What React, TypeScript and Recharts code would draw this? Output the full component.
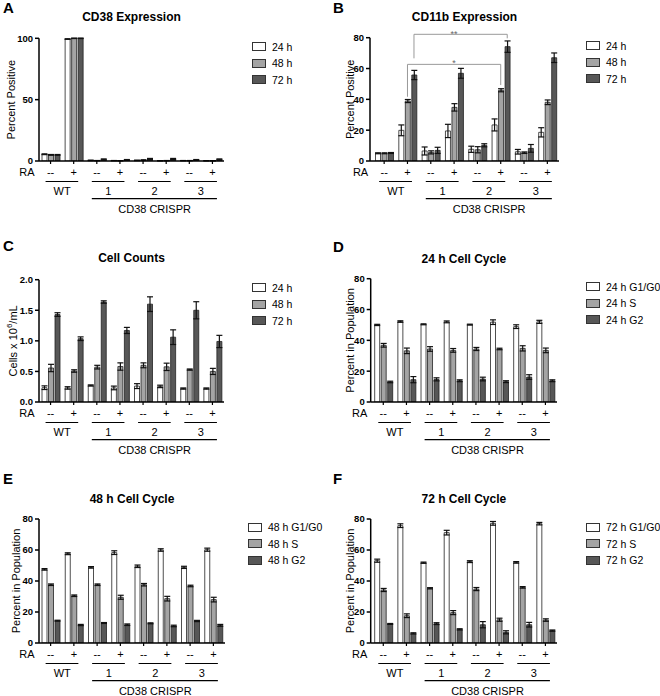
import React from 'react';
import { BarChart, Bar, XAxis, YAxis, ErrorBar, Legend, ReferenceLine } from 'recharts';

// ---------- shared categories ----------
const categories = ['WT-', 'WT+', '1-', '1+', '2-', '2+', '3-', '3+'];
const raLabels = ['--', '+', '--', '+', '--', '+', '--', '+'];
const groupLabels = ['WT', '1', '2', '3'];
const crisprLabel = 'CD38 CRISPR';
const raTitle = 'RA';

// ---------- A: CD38 expression ----------
const cd38Series = ['24 h', '48 h', '72 h'];
const cd38_24 = [5.5, 99.4, 0.5, 0.3, 0.5, 0.2, 0.3, 0.2];
const cd38_48 = [5.0, 100, 0.3, 0.2, 0.7, 0.3, 0.3, 0.2];
const cd38_72 = [5.0, 100, 1.3, 0.9, 1.6, 1.6, 0.9, 1.3];
const cd38_24e = [0.3, 0.2, 0.2, 0.1, 0.2, 0.1, 0.1, 0.1];
const cd38_48e = [0.3, 0.2, 0.1, 0.1, 0.3, 0.1, 0.1, 0.1];
const cd38_72e = [0.3, 0.2, 0.4, 0.3, 0.5, 0.5, 0.3, 0.4];
const cd38Ticks = [0, 50, 100];

// ---------- B: CD11b expression ----------
const cd11bSeries = ['24 h', '48 h', '72 h'];
const cd11b_24 = [5.0, 19.9, 6.5, 19.5, 7.6, 23.4, 6.0, 18.6];
const cd11b_48 = [5.0, 38.9, 5.6, 34.8, 7.3, 45.9, 5.4, 38.1];
const cd11b_72 = [5.2, 55.8, 6.9, 56.9, 10.2, 74.2, 8.2, 67.0];
const cd11b_24e = [0.3, 3.5, 2.6, 4.3, 2.0, 3.9, 1.5, 3.0];
const cd11b_48e = [0.3, 1.0, 1.0, 2.4, 2.0, 1.0, 0.5, 1.5];
const cd11b_72e = [0.3, 3.0, 2.0, 3.2, 1.0, 3.7, 2.5, 3.1];
const cd11bTicks = [0, 20, 40, 60, 80];
// significance brackets: from/to category, series index, y of bar, leg ends
const sigFrom = ['WT+', 'WT+'];
const sigTo = ['2+', '2+'];
const sigSeries = [2, 1];
const sigY = [82.2, 62.7];
const sigLeftEnd = [66.6, 41.7];
const sigRightEnd = [79.6, 49.3];
const sigText = ['**', '*'];

// ---------- C: cell counts ----------
const countSeries = ['24 h', '48 h', '72 h'];
const count_24 = [0.234, 0.23, 0.27, 0.23, 0.26, 0.255, 0.22, 0.22];
const count_48 = [0.556, 0.507, 0.57, 0.58, 0.6, 0.575, 0.53, 0.5];
const count_72 = [1.43, 1.035, 1.635, 1.17, 1.6, 1.06, 1.5, 0.99];
const count_24e = [0.03, 0.02, 0.01, 0.03, 0.04, 0.02, 0.01, 0.01];
const count_48e = [0.06, 0.02, 0.03, 0.06, 0.04, 0.06, 0.01, 0.05];
const count_72e = [0.03, 0.03, 0.02, 0.05, 0.12, 0.12, 0.14, 0.1];
const countTicks = [0, 0.5, 1.0, 1.5, 2.0];

// ---------- D: 24 h cell cycle ----------
const cc24Series = ['24 h G1/G0', '24 h S', '24 h G2'];
const cc24_g1 = [50.0, 52.2, 50.4, 52.0, 50.2, 51.8, 48.9, 52.0];
const cc24_s = [36.8, 33.2, 34.4, 33.5, 34.4, 34.4, 34.8, 33.5];
const cc24_g2 = [13.0, 14.5, 14.7, 13.8, 14.9, 13.2, 16.2, 13.8];
const cc24_g1e = [0.4, 0.5, 0.3, 0.6, 0.3, 1.5, 1.2, 1.0];
const cc24_se = [1.2, 1.8, 1.5, 1.2, 1.0, 0.5, 1.7, 1.5];
const cc24_g2e = [0.5, 2.0, 1.0, 0.6, 1.2, 0.6, 1.5, 0.6];

// ---------- E: 48 h cell cycle ----------
const cc48Series = ['48 h G1/G0', '48 h S', '48 h G2'];
const cc48_g1 = [47.5, 57.6, 48.8, 58.3, 49.5, 60.0, 48.8, 60.2];
const cc48_s = [37.6, 30.5, 37.6, 29.5, 37.6, 28.6, 36.8, 28.0];
const cc48_g2 = [14.4, 11.6, 12.9, 11.8, 12.7, 11.0, 14.2, 11.4];
const cc48_g1e = [0.5, 0.6, 0.5, 1.2, 0.8, 0.8, 0.7, 1.0];
const cc48_se = [0.5, 0.5, 0.5, 1.3, 0.8, 1.5, 0.5, 1.5];
const cc48_g2e = [0.3, 0.4, 0.3, 0.5, 0.3, 0.5, 0.4, 0.6];

// ---------- F: 72 h cell cycle ----------
const cc72Series = ['72 h G1/G0', '72 h S', '72 h G2'];
const cc72_g1 = [53.1, 75.7, 51.8, 71.2, 52.5, 77.2, 52.0, 77.0];
const cc72_s = [34.2, 17.6, 35.3, 19.6, 34.8, 15.0, 35.9, 14.8];
const cc72_g2 = [12.3, 6.2, 12.5, 8.8, 11.8, 6.9, 11.8, 8.0];
const cc72_g1e = [1.0, 1.2, 0.4, 1.5, 0.6, 1.2, 0.5, 0.8];
const cc72_se = [1.0, 1.2, 0.4, 1.3, 1.0, 1.0, 0.5, 0.8];
const cc72_g2e = [0.3, 0.4, 0.6, 0.4, 2.0, 1.0, 1.5, 0.4];

const pctTicks = [0, 20, 40, 60, 80];

// ---------- styles ----------
const FONT = '"Liberation Sans", Arial, Helvetica, sans-serif';
const seriesFill = ['#ffffff', '#a4a4a4', '#575757'];
const barStroke = '#222';
const BAR_SIZE = 5;
const BAR_GAP = 1.5;
const W = 330;
const H = 232;

type Cfg = {
  ox: number; oy: number; letter: string; letterY: number;
  title: string; titleY: number;
  plotTop: number; plotBottom: number; plotLeft: number; plotRight: number; padLeft: number;
  yMax: number; yTicks: number[]; fmt?: (v: number) => string;
  yLabel: React.ReactNode; yLabelX: number; legendPad: number;
  series: string[]; vals: number[][]; errs: number[][];
  brackets?: boolean;
};

const panels: Cfg[] = [
  {
    ox: 0, oy: 0, letter: 'A', letterY: 8, title: 'CD38 Expression', titleY: 17,
    plotTop: 38.3, plotBottom: 161, plotLeft: 39, plotRight: 224, padLeft: 0,
    yMax: 100, yTicks: cd38Ticks, yLabel: 'Percent Positive', yLabelX: 11, legendPad: 28,
    series: cd38Series, vals: [cd38_24, cd38_48, cd38_72], errs: [cd38_24e, cd38_48e, cd38_72e],
  },
  {
    ox: 330, oy: 0, letter: 'B', letterY: 8, title: 'CD11b Expression', titleY: 17.3,
    plotTop: 37.7, plotBottom: 161, plotLeft: 40, plotRight: 229, padLeft: 2.5,
    yMax: 80, yTicks: cd11bTicks, yLabel: 'Percent Positive', yLabelX: 20, legendPad: 27,
    series: cd11bSeries, vals: [cd11b_24, cd11b_48, cd11b_72], errs: [cd11b_24e, cd11b_48e, cd11b_72e],
    brackets: true,
  },
  {
    ox: 0, oy: 232, letter: 'C', letterY: 14, title: 'Cell Counts', titleY: 26,
    plotTop: 47.7, plotBottom: 170, plotLeft: 39, plotRight: 224, padLeft: 0,
    yMax: 2, yTicks: countTicks, fmt: (v: number) => v.toFixed(1),
    yLabel: (
      <>
        Cells x 10<tspan fontSize={8} dy={-4}>6</tspan><tspan dy={4}>/mL</tspan>
      </>
    ),
    yLabelX: 13, legendPad: 28,
    series: countSeries, vals: [count_24, count_48, count_72], errs: [count_24e, count_48e, count_72e],
  },
  {
    ox: 330, oy: 232, letter: 'D', letterY: 15, title: '24 h Cell Cycle', titleY: 26.7,
    plotTop: 46.7, plotBottom: 170, plotLeft: 40.7, plotRight: 227, padLeft: 1,
    yMax: 80, yTicks: pctTicks, yLabel: 'Percent in Population', yLabelX: 20, legendPad: 29,
    series: cc24Series, vals: [cc24_g1, cc24_s, cc24_g2], errs: [cc24_g1e, cc24_se, cc24_g2e],
  },
  {
    ox: 0, oy: 464, letter: 'E', letterY: 15, title: '48 h Cell Cycle', titleY: 35,
    plotTop: 55, plotBottom: 179, plotLeft: 39, plotRight: 225, padLeft: 0,
    yMax: 80, yTicks: pctTicks, yLabel: 'Percent in Population', yLabelX: 16, legendPad: 23,
    series: cc48Series, vals: [cc48_g1, cc48_s, cc48_g2], errs: [cc48_g1e, cc48_se, cc48_g2e],
  },
  {
    ox: 330, oy: 464, letter: 'F', letterY: 15, title: '72 h Cell Cycle', titleY: 35,
    plotTop: 55, plotBottom: 179, plotLeft: 40.7, plotRight: 227, padLeft: 1,
    yMax: 80, yTicks: pctTicks, yLabel: 'Percent in Population', yLabelX: 20, legendPad: 29,
    series: cc72Series, vals: [cc72_g1, cc72_s, cc72_g2], errs: [cc72_g1e, cc72_se, cc72_g2e],
  },
];

function makeTick(band: number) {
  return (props: any) => {
    const { x, y, payload } = props;
    const i = categories.indexOf(payload.value);
    const fs = 11;
    const els: React.ReactNode[] = [];
    els.push(
      <text key="t" x={x} y={y + 9} textAnchor="middle" fontSize={fs} fill="#000" fontFamily={FONT}>
        {raLabels[i]}
      </text>
    );
    if (i === 0) {
      els.push(
        <text key="ra" x={x - 16} y={y + 9} textAnchor="end" fontSize={fs} fill="#000" fontFamily={FONT}>
          {raTitle}
        </text>
      );
    }
    if (i % 2 === 0) {
      const x2 = x + band;
      els.push(<line key="u" x1={x - 5} x2={x2 + 4.5} y1={y + 14.5} y2={y + 14.5} stroke="#000" strokeWidth={1.2} />);
      els.push(
        <text key="g" x={(x + x2) / 2} y={y + 28} textAnchor="middle" fontSize={fs} fill="#000" fontFamily={FONT}>
          {groupLabels[i / 2]}
        </text>
      );
    }
    if (i === 2) {
      const x7 = x + 5 * band;
      els.push(<line key="c" x1={x - 5} x2={x7 + 4.5} y1={y + 31.7} y2={y + 31.7} stroke="#000" strokeWidth={1.2} />);
      els.push(
        <text key="ct" x={(x + x7) / 2} y={y + 46} textAnchor="middle" fontSize={fs} fill="#000" fontFamily={FONT}>
          {crisprLabel}
        </text>
      );
    }
    return <g>{els}</g>;
  };
}

function bracketShape(dx: number, label?: string, labelDy?: number) {
  return (p: any) => (
    <g>
      <line x1={p.x1 + dx} y1={p.y1} x2={p.x2 + dx} y2={p.y2} stroke="#999" strokeWidth={1} />
      {label ? (
        <text x={(p.x1 + p.x2) / 2} y={p.y1 + (labelDy || 0)} textAnchor="middle" fontSize={9} fill="#666" fontFamily={FONT}>
          {label}
        </text>
      ) : null}
    </g>
  );
}

function Panel({ cfg }: { cfg: Cfg }) {
  const data = categories.map((c, i) => {
    const row: any = { cat: c };
    cfg.series.forEach((_, j) => {
      row['v' + j] = cfg.vals[j][i];
      row['e' + j] = cfg.errs[j][i];
    });
    return row;
  });
  const band = (cfg.plotRight - cfg.plotLeft - cfg.padLeft) / categories.length;
  const legendW = W - cfg.plotRight;
  const barOffset = BAR_SIZE + BAR_GAP;

  const brackets: React.ReactNode[] = [];
  if (cfg.brackets) {
    sigFrom.forEach((from, k) => {
      const dx = (sigSeries[k] - 1) * barOffset;
      const to = sigTo[k];
      brackets.push(
        <ReferenceLine key={'h' + k} segment={[{ x: from, y: sigY[k] }, { x: to, y: sigY[k] }]} ifOverflow="visible"
          shape={bracketShape(dx, sigText[k], k === 0 ? 3 : 1.5)} />
      );
      brackets.push(
        <ReferenceLine key={'l' + k} segment={[{ x: from, y: sigY[k] }, { x: from, y: sigLeftEnd[k] }]} ifOverflow="visible"
          shape={bracketShape(dx)} />
      );
      brackets.push(
        <ReferenceLine key={'r' + k} segment={[{ x: to, y: sigY[k] }, { x: to, y: sigRightEnd[k] }]} ifOverflow="visible"
          shape={bracketShape(dx)} />
      );
    });
  }

  return (
    <div style={{ position: 'absolute', left: cfg.ox, top: cfg.oy, width: W, height: H }}>
      <BarChart
        width={W}
        height={H}
        data={data}
        margin={{ top: cfg.plotTop, right: 0, bottom: 0, left: 0 }}
        barGap={BAR_GAP}
        style={{ fontFamily: FONT }}
      >
        <XAxis
          dataKey="cat"
          height={H - cfg.plotBottom}
          interval={0}
          padding={{ left: cfg.padLeft, right: 0 }}
          axisLine={{ stroke: '#000', strokeWidth: 1.5 }}
          tickLine={{ stroke: '#000', strokeWidth: 1.2 }}
          tickSize={3}
          tickMargin={3}
          tick={makeTick(band)}
        />
        <YAxis
          width={cfg.plotLeft}
          domain={[0, cfg.yMax]}
          ticks={cfg.yTicks}
          interval={0}
          allowDataOverflow
          tickFormatter={cfg.fmt}
          axisLine={{ stroke: '#000', strokeWidth: 1.5 }}
          tickLine={{ stroke: '#000', strokeWidth: 1.5 }}
          tickSize={4}
          tickMargin={2}
          tick={{ fontSize: 9.5, fontWeight: 'bold', fill: '#000', fontFamily: FONT }}
          label={(props: any) => {
            const vb = props.viewBox || {};
            const cy = (vb.y || 0) + (vb.height || 0) / 2;
            return (
              <text
                transform={`translate(${cfg.yLabelX},${cy}) rotate(-90)`}
                textAnchor="middle"
                dominantBaseline="central"
                fontSize={11}
                fill="#000"
                fontFamily={FONT}
              >
                {cfg.yLabel}
              </text>
            );
          }}
        />
        <Legend
          layout="vertical"
          align="right"
          verticalAlign="top"
          wrapperStyle={{ top: cfg.plotTop, right: 0 }}
          content={() => (
            <div style={{ width: legendW, paddingLeft: cfg.legendPad, boxSizing: 'border-box', fontFamily: FONT }}>
              {cfg.series.map((name, j) => (
                <div key={name} style={{ height: 16.5, display: 'flex', alignItems: 'center' }}>
                  <svg width={14} height={9} style={{ display: 'block', flex: 'none' }}>
                    <rect x={0.5} y={0.5} width={13} height={8} fill={seriesFill[j]} stroke="#333" strokeWidth={1} />
                  </svg>
                  <span style={{ marginLeft: 6, fontSize: 10.5, color: '#000', whiteSpace: 'nowrap', lineHeight: '12px' }}>
                    {name}
                  </span>
                </div>
              ))}
            </div>
          )}
        />
        {cfg.series.map((s, j) => (
          <Bar
            key={s}
            dataKey={'v' + j}
            name={s}
            fill={seriesFill[j]}
            stroke={barStroke}
            strokeWidth={0.8}
            barSize={BAR_SIZE}
            isAnimationActive={false}
          >
            <ErrorBar dataKey={'e' + j} width={3} stroke="#111" strokeWidth={1.2} isAnimationActive={false} />
          </Bar>
        ))}
        {brackets}
      </BarChart>
      <div
        style={{
          position: 'absolute', left: cfg.plotLeft, width: cfg.plotRight - cfg.plotLeft, top: cfg.titleY - 8,
          height: 16, lineHeight: '16px', textAlign: 'center', fontSize: 12, fontWeight: 'bold', fontFamily: FONT, color: '#000',
        }}
      >
        {cfg.title}
      </div>
      <div
        style={{
          position: 'absolute', left: 3, top: cfg.letterY - 9, height: 18, lineHeight: '18px',
          fontSize: 15, fontWeight: 'bold', fontFamily: FONT, color: '#000',
        }}
      >
        {cfg.letter}
      </div>
    </div>
  );
}

export default function App() {
  return (
    <div style={{ position: 'absolute', left: 0, top: 0, width: 660, height: 696, background: '#fff', overflow: 'hidden' }}>
      {panels.map((p) => (
        <Panel key={p.letter} cfg={p} />
      ))}
    </div>
  );
}
